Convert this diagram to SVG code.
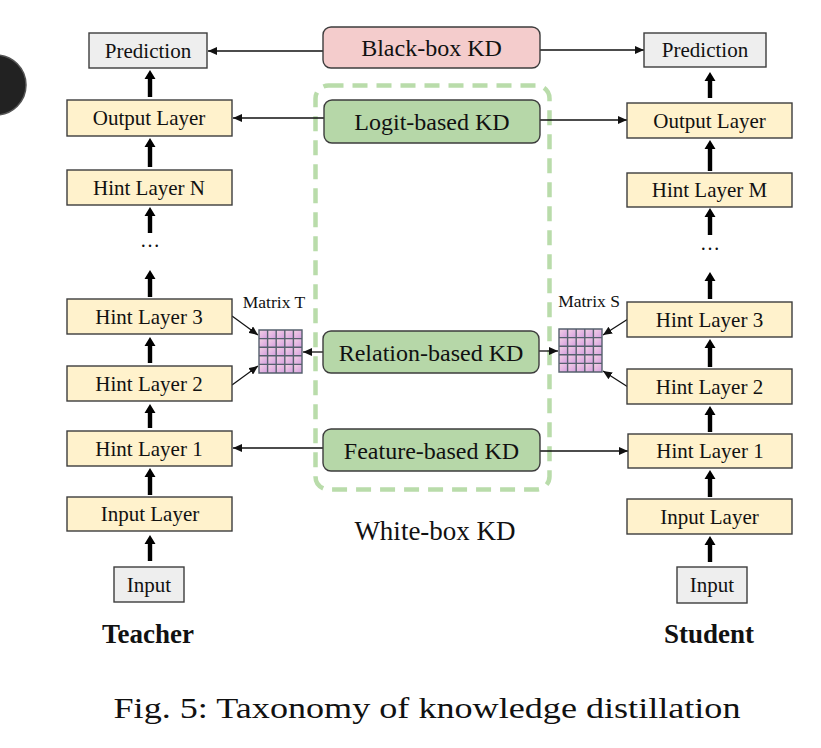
<svg xmlns="http://www.w3.org/2000/svg" width="821" height="748" viewBox="0 0 821 748">
<style>
  .lay{fill:#fff2cc;stroke:#3d3d3d;stroke-width:1.4}
  .io{fill:#eeeeee;stroke:#3d3d3d;stroke-width:1.4}
  .kdg{fill:#b6d7a8;stroke:#3d3d3d;stroke-width:1.4}
  .kdr{fill:#f4cccc;stroke:#3d3d3d;stroke-width:1.4}
  .t{font-family:"Liberation Serif","Times New Roman",serif;fill:#111;text-anchor:middle}
  .s21{font-size:21px}
  .s24{font-size:24px}
  .thin{stroke:#111;stroke-width:1.3;fill:none;marker-end:url(#ah)}
  .ta{fill:#000}
  .grid{stroke:#56606e;stroke-width:1.4;fill:none}
</style>
<defs>
  <marker id="ah" markerUnits="userSpaceOnUse" markerWidth="10" markerHeight="8" refX="9" refY="4" orient="auto">
    <path d="M0,0 L9,4 L0,8 z" fill="#111"/>
  </marker>
  <linearGradient id="cg" x1="0" y1="0" x2="1" y2="1">
    <stop offset="0" stop-color="#f5d2e4"/>
    <stop offset="1" stop-color="#d49ee0"/>
  </linearGradient>
  <g id="mat">
    <rect x="0" y="0" width="8.6" height="8.6" fill="url(#cg)"/><rect x="8.6" y="0" width="8.6" height="8.6" fill="url(#cg)"/><rect x="17.2" y="0" width="8.6" height="8.6" fill="url(#cg)"/><rect x="25.8" y="0" width="8.6" height="8.6" fill="url(#cg)"/><rect x="34.4" y="0" width="8.6" height="8.6" fill="url(#cg)"/>
    <rect x="0" y="8.6" width="8.6" height="8.6" fill="url(#cg)"/><rect x="8.6" y="8.6" width="8.6" height="8.6" fill="url(#cg)"/><rect x="17.2" y="8.6" width="8.6" height="8.6" fill="url(#cg)"/><rect x="25.8" y="8.6" width="8.6" height="8.6" fill="url(#cg)"/><rect x="34.4" y="8.6" width="8.6" height="8.6" fill="url(#cg)"/>
    <rect x="0" y="17.2" width="8.6" height="8.6" fill="url(#cg)"/><rect x="8.6" y="17.2" width="8.6" height="8.6" fill="url(#cg)"/><rect x="17.2" y="17.2" width="8.6" height="8.6" fill="url(#cg)"/><rect x="25.8" y="17.2" width="8.6" height="8.6" fill="url(#cg)"/><rect x="34.4" y="17.2" width="8.6" height="8.6" fill="url(#cg)"/>
    <rect x="0" y="25.8" width="8.6" height="8.6" fill="url(#cg)"/><rect x="8.6" y="25.8" width="8.6" height="8.6" fill="url(#cg)"/><rect x="17.2" y="25.8" width="8.6" height="8.6" fill="url(#cg)"/><rect x="25.8" y="25.8" width="8.6" height="8.6" fill="url(#cg)"/><rect x="34.4" y="25.8" width="8.6" height="8.6" fill="url(#cg)"/>
    <rect x="0" y="34.4" width="8.6" height="8.6" fill="url(#cg)"/><rect x="8.6" y="34.4" width="8.6" height="8.6" fill="url(#cg)"/><rect x="17.2" y="34.4" width="8.6" height="8.6" fill="url(#cg)"/><rect x="25.8" y="34.4" width="8.6" height="8.6" fill="url(#cg)"/><rect x="34.4" y="34.4" width="8.6" height="8.6" fill="url(#cg)"/>
    <path class="grid" d="M0,0 H43 V43 H0 Z M0,8.6 H43 M0,17.2 H43 M0,25.8 H43 M0,34.4 H43 M8.6,0 V43 M17.2,0 V43 M25.8,0 V43 M34.4,0 V43"/>
  </g>
</defs>

<rect width="821" height="748" fill="#ffffff"/>
<circle cx="-4" cy="85" r="30" fill="#222222" stroke="#555555" stroke-width="1.5"/>

<!-- White-box dashed region -->
<g id="whitebox">
  <rect x="315.5" y="85.5" width="234" height="404" rx="13" fill="none" stroke="#b9dcaa" stroke-width="4.5" stroke-dasharray="15 9"/>
  <text class="t" x="435" y="540" font-size="27">White-box KD</text>
</g>

<!-- connectors -->
<g id="connectors">
  <line class="thin" x1="323" y1="51" x2="208" y2="51"/>
  <line class="thin" x1="540" y1="50" x2="644" y2="50"/>
  <line class="thin" x1="324" y1="118" x2="233" y2="118"/>
  <line class="thin" x1="540" y1="120" x2="627" y2="120"/>
  <line class="thin" x1="323" y1="352" x2="303" y2="352"/>
  <line class="thin" x1="539" y1="351" x2="558" y2="351"/>
  <line class="thin" x1="323" y1="448" x2="233" y2="448"/>
  <line class="thin" x1="540" y1="451" x2="628" y2="451"/>
  <line class="thin" x1="232" y1="316" x2="258" y2="335"/>
  <line class="thin" x1="232" y1="385" x2="258" y2="366"/>
  <line class="thin" x1="628" y1="319" x2="603" y2="335"/>
  <line class="thin" x1="628" y1="387" x2="603" y2="371"/>
  <!-- thick teacher arrows -->
  <path class="ta" d="M147.8,97 V79 H144.5 L150,70 L155.5,79 H152.2 V97 Z"/>
  <path class="ta" d="M147.8,167 V147 H144.5 L150,138 L155.5,147 H152.2 V167 Z"/>
  <path class="ta" d="M147.8,233 V216 H144.5 L150,207 L155.5,216 H152.2 V233 Z"/>
  <path class="ta" d="M147.8,297 V279 H144.5 L150,270 L155.5,279 H152.2 V297 Z"/>
  <path class="ta" d="M147.8,363 V346 H144.5 L150,337 L155.5,346 H152.2 V363 Z"/>
  <path class="ta" d="M147.8,428 V413 H144.5 L150,404 L155.5,413 H152.2 V428 Z"/>
  <path class="ta" d="M147.8,495 V477 H144.5 L150,468 L155.5,477 H152.2 V495 Z"/>
  <path class="ta" d="M147.8,561 V544 H144.5 L150,535 L155.5,544 H152.2 V561 Z"/>
  <!-- thick student arrows -->
  <path class="ta" d="M707.8,98 V81 H704.5 L710,72 L715.5,81 H712.2 V98 Z"/>
  <path class="ta" d="M707.8,171 V149 H704.5 L710,140 L715.5,149 H712.2 V171 Z"/>
  <path class="ta" d="M707.8,235 V217 H704.5 L710,208 L715.5,217 H712.2 V235 Z"/>
  <path class="ta" d="M707.8,299 V281 H704.5 L710,272 L715.5,281 H712.2 V299 Z"/>
  <path class="ta" d="M707.8,367 V348 H704.5 L710,339 L715.5,348 H712.2 V367 Z"/>
  <path class="ta" d="M707.8,432 V415 H704.5 L710,406 L715.5,415 H712.2 V432 Z"/>
  <path class="ta" d="M707.8,497 V479 H704.5 L710,470 L715.5,479 H712.2 V497 Z"/>
  <path class="ta" d="M707.8,562 V545 H704.5 L710,536 L715.5,545 H712.2 V562 Z"/>
</g>

<!-- Middle KD nodes -->
<g id="blackbox"><rect class="kdr" x="323" y="27" width="217" height="41" rx="8"/><text class="t s24" x="431.5" y="56">Black-box KD</text></g>
<g id="logit"><rect class="kdg" x="324" y="100" width="216" height="43" rx="8"/><text class="t s24" x="432" y="130">Logit-based KD</text></g>
<g id="relation"><rect class="kdg" x="323" y="331" width="216" height="42" rx="8"/><text class="t s24" x="431" y="360.5">Relation-based KD</text></g>
<g id="feature"><rect class="kdg" x="323" y="429" width="217" height="42" rx="8"/><text class="t s24" x="431.5" y="458.5">Feature-based KD</text></g>

<!-- Matrices -->
<g id="matrixT"><use href="#mat" x="259" y="330"/><text class="t" x="274" y="308" font-size="17.5">Matrix T</text></g>
<g id="matrixS"><use href="#mat" x="559" y="329"/><text class="t" x="589" y="307" font-size="17.5">Matrix S</text></g>

<!-- Teacher column -->
<g id="t_pred"><rect class="io" x="89" y="33" width="118" height="35"/><text class="t s21" x="148" y="57.5">Prediction</text></g>
<g id="t_out"><rect class="lay" x="67" y="100" width="165" height="36"/><text class="t s21" x="149" y="125">Output Layer</text></g>
<g id="t_hintN"><rect class="lay" x="67" y="170" width="165" height="35"/><text class="t s21" x="149" y="194.5">Hint Layer N</text></g>
<g id="t_dots"><text class="t" x="150" y="247" font-size="20">…</text></g>
<g id="t_hint3"><rect class="lay" x="67" y="299" width="165" height="35"/><text class="t s21" x="149" y="323.5">Hint Layer 3</text></g>
<g id="t_hint2"><rect class="lay" x="67" y="366" width="165" height="35"/><text class="t s21" x="149" y="390.5">Hint Layer 2</text></g>
<g id="t_hint1"><rect class="lay" x="67" y="431" width="165" height="35"/><text class="t s21" x="149" y="455.5">Hint Layer 1</text></g>
<g id="t_inlayer"><rect class="lay" x="67" y="497" width="165" height="34"/><text class="t s21" x="150" y="521">Input Layer</text></g>
<g id="t_input"><rect class="io" x="114" y="567" width="70" height="35"/><text class="t s21" x="149" y="591.5">Input</text></g>
<g id="teacher"><text class="t" x="148" y="643" font-size="27" font-weight="bold">Teacher</text></g>

<!-- Student column -->
<g id="s_pred"><rect class="io" x="644" y="33" width="122" height="34"/><text class="t s21" x="705" y="57">Prediction</text></g>
<g id="s_out"><rect class="lay" x="627" y="103" width="165" height="35"/><text class="t s21" x="709.5" y="127.5">Output Layer</text></g>
<g id="s_hintM"><rect class="lay" x="627" y="173" width="165" height="34"/><text class="t s21" x="709.5" y="197">Hint Layer M</text></g>
<g id="s_dots"><text class="t" x="710" y="250" font-size="20">…</text></g>
<g id="s_hint3"><rect class="lay" x="627" y="302" width="165" height="35"/><text class="t s21" x="709.5" y="326.5">Hint Layer 3</text></g>
<g id="s_hint2"><rect class="lay" x="627" y="369" width="165" height="35"/><text class="t s21" x="709.5" y="393.5">Hint Layer 2</text></g>
<g id="s_hint1"><rect class="lay" x="628" y="434" width="164" height="34"/><text class="t s21" x="710" y="458">Hint Layer 1</text></g>
<g id="s_inlayer"><rect class="lay" x="627" y="499" width="165" height="35"/><text class="t s21" x="709.5" y="523.5">Input Layer</text></g>
<g id="s_input"><rect class="io" x="677" y="567" width="70" height="36"/><text class="t s21" x="712" y="592">Input</text></g>
<g id="student"><text class="t" x="709" y="643" font-size="27" font-weight="bold">Student</text></g>

<!-- Caption -->
<text class="t" x="427" y="718" font-size="30" textLength="627" lengthAdjust="spacingAndGlyphs">Fig. 5: Taxonomy of knowledge distillation</text>
</svg>
